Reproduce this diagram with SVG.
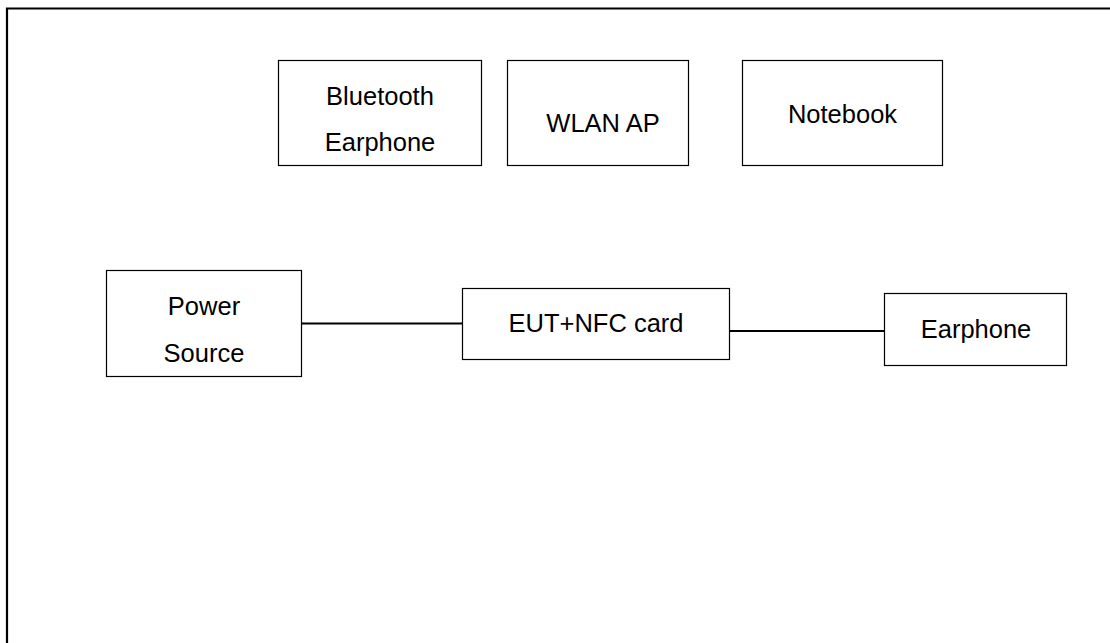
<svg xmlns="http://www.w3.org/2000/svg" width="1110" height="643" viewBox="0 0 1110 643">
<style>
.box{fill:#fff;stroke:#000;stroke-width:1.2}
.t{font-family:"Liberation Sans",Arial,sans-serif;font-size:25.5px;fill:#000;text-anchor:middle}
.c{stroke:#000;stroke-width:1.8;fill:none}
</style>
<rect width="1110" height="643" fill="#fff"/>
<path d="M7,643 V8.5 H1110" fill="none" stroke="#000" stroke-width="2.2"/>
<g id="connectors">
<line class="c" x1="302" y1="323.5" x2="463" y2="323.5"/>
<line class="c" x1="730" y1="331" x2="885" y2="331"/>
</g>
<g id="bluetooth-earphone">
<rect class="box" x="278.5" y="60.5" width="203" height="105"/>
<text class="t" x="380" y="105">Bluetooth</text>
<text class="t" x="380" y="151">Earphone</text>
</g>
<g id="wlan-ap">
<rect class="box" x="507.5" y="60.5" width="181" height="105"/>
<text class="t" x="603" y="131.5">WLAN AP</text>
</g>
<g id="notebook">
<rect class="box" x="742.5" y="60.5" width="200" height="105"/>
<text class="t" x="842.5" y="122.5">Notebook</text>
</g>
<g id="power-source">
<rect class="box" x="106.5" y="270.5" width="195" height="106"/>
<text class="t" x="204" y="315">Power</text>
<text class="t" x="204" y="361.5">Source</text>
</g>
<g id="eut">
<rect class="box" x="462.5" y="288.5" width="267" height="71"/>
<text class="t" x="596" y="331.5">EUT+NFC card</text>
</g>
<g id="earphone">
<rect class="box" x="884.5" y="293.5" width="182" height="72"/>
<text class="t" x="976" y="337.5">Earphone</text>
</g>
</svg>
